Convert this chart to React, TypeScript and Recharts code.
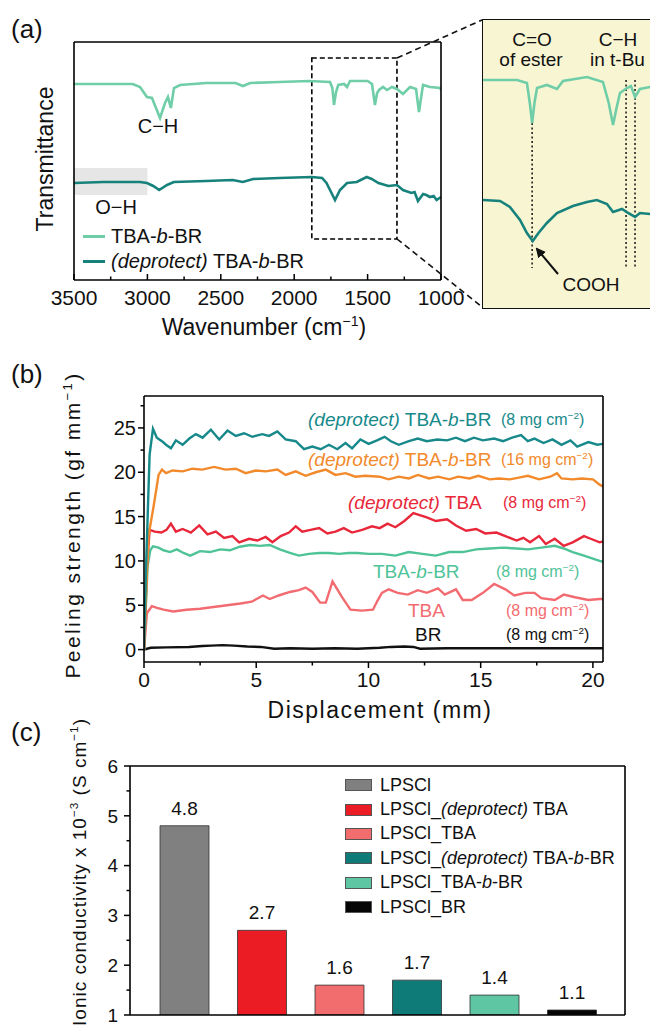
import React from "react";
import {
  LineChart,
  Line,
  XAxis,
  YAxis,
  ReferenceArea,
  ReferenceLine,
  BarChart,
  Bar,
  Cell,
  LabelList,
  Legend,
} from "recharts";

const FONT = "'Liberation Sans', Arial, Helvetica, sans-serif";

// ---------- (a) FTIR ----------
const ftirNames = ["TBA-b-BR", "(deprotect) TBA-b-BR"];
const ftirColors = ["#6fcea8", "#17827c"];
const ftirTicks = [3500, 3250, 3000, 2750, 2500, 2250, 2000, 1750, 1500, 1250, 1000];

const tbaWn = [3500, 3300, 3100, 3050, 3003, 2969, 2914, 2880, 2860, 2840, 2819, 2778, 2600, 2400, 2349, 2300, 2100, 1900, 1756, 1740, 1729, 1715, 1700, 1660, 1640, 1620, 1500, 1470, 1450, 1435, 1422, 1395, 1368, 1334, 1300, 1259, 1211, 1170, 1150, 1130, 1122, 1075, 1007, 1000];
const tbaT = [194, 194, 194, 191, 181, 180, 160, 175, 181, 170, 190, 193, 195, 195, 192, 195, 196, 197, 196, 190, 173, 186, 193, 194, 191, 197, 197, 194, 173, 185, 188, 191, 188, 191, 189, 184, 191, 189, 166, 186, 193, 191, 190, 188];

const deprotWn = [3500, 3300, 3050, 3003, 2960, 2920, 2866, 2820, 2600, 2419, 2350, 2280, 2100, 1879, 1810, 1780, 1756, 1722, 1688, 1640, 1574, 1506, 1472, 1426, 1358, 1300, 1259, 1202, 1180, 1157, 1122, 1100, 1075, 1050, 1030, 1000];
const deprotT = [95, 96, 96, 95, 92, 88, 93, 96, 97, 98, 96, 99, 100, 101, 100, 95, 88, 78, 88, 95, 96, 101, 99, 95, 92, 93, 88, 85, 86, 77, 84, 83, 81, 82, 78, 81];

// zoomed inset 1900-1210 cm-1
const insetTopWn = [1900, 1782, 1748, 1738, 1730, 1722, 1713, 1679, 1644, 1623, 1540, 1485, 1465, 1450, 1438, 1426, 1402, 1388, 1374, 1357, 1322, 1300, 1275, 1259, 1245, 1208];
const insetTopT = [228, 228, 225, 205, 185, 205, 220, 223, 219, 227, 231, 226, 205, 183, 200, 215, 220, 222, 211, 219, 221, 219, 216, 206, 214, 214];
const insetBotWn = [1900, 1841, 1807, 1772, 1748, 1728, 1708, 1679, 1644, 1589, 1540, 1506, 1471, 1450, 1419, 1398, 1374, 1357, 1322, 1290, 1260, 1230, 1208];
const insetBotT = [108, 107, 101, 88, 75, 67, 75, 85, 95, 102, 106, 108, 104, 96, 99, 95, 91, 95, 94, 92, 86, 84, 82];

// ---------- (b) peel test ----------
const peelNames = ["(deprotect) TBA-b-BR", "(deprotect) TBA-b-BR", "(deprotect) TBA", "TBA-b-BR", "TBA", "BR"];
const peelLoading = [8, 16, 8, 8, 8, 8];
const peelColors = ["#17898a", "#f28a2c", "#e8283a", "#4fc398", "#f26b70", "#111111"];
const peelXTicks = [0, 2.5, 5, 7.5, 10, 12.5, 15, 17.5, 20];
const peelYTicks = [0, 2.5, 5, 7.5, 10, 12.5, 15, 17.5, 20, 22.5, 25, 27.5];

const tealX = [0, 0.1, 0.25, 0.4, 0.57, 0.8, 0.98, 1.2, 1.42, 1.72, 2.02, 2.31, 2.61, 2.98, 3.35, 3.72, 4.09, 4.46, 4.83, 5.27, 5.57, 5.94, 6.31, 6.76, 7.13, 7.5, 7.87, 8.24, 8.61, 8.98, 9.27, 9.64, 10.01, 10.38, 10.72, 11.0, 11.35, 11.8, 12.2, 12.6, 13.07, 13.5, 13.9, 14.3, 14.7, 15.1, 15.6, 16.0, 16.4, 16.8, 17.1, 17.4, 17.8, 18.2, 18.6, 19.0, 19.3, 19.8, 20.2, 20.45];
const tealY = [0, 10, 22, 24.9, 23.9, 23.5, 23.1, 22.7, 23.6, 23.1, 23.8, 24.3, 23.9, 24.8, 23.7, 24.7, 24.1, 24.4, 24.0, 24.3, 24.1, 24.6, 23.7, 23.5, 22.6, 22.9, 22.6, 23.1, 22.6, 23.3, 22.7, 23.7, 23.2, 23.6, 24.0, 23.5, 23.1, 23.5, 23.8, 23.5, 23.7, 23.6, 23.9, 23.5, 23.9, 23.6, 23.8, 23.5, 23.9, 24.2, 23.5, 23.8, 23.3, 23.7, 23.1, 23.6, 22.9, 23.4, 23.1, 23.2];

const orangeX = [0, 0.12, 0.2, 0.43, 0.65, 0.8, 0.98, 1.27, 1.72, 2.16, 2.6, 3.12, 3.64, 4.09, 4.53, 4.98, 5.42, 5.94, 6.31, 6.76, 7.2, 7.65, 8.1, 8.53, 8.98, 9.42, 9.86, 10.5, 10.9, 11.35, 11.8, 12.2, 12.7, 13.1, 13.6, 14.0, 14.5, 14.9, 15.4, 15.8, 16.3, 16.7, 17.1, 17.6, 18.1, 18.4, 18.6, 19.1, 19.5, 20.0, 20.3, 20.45];
const orangeY = [0, 8, 12.8, 16.2, 19.7, 20.3, 19.9, 20.2, 20.1, 20.4, 20.3, 20.6, 20.3, 20.4, 19.9, 20.2, 20.1, 20.3, 19.7, 20.1, 19.6, 20.0, 20.3, 19.7, 19.9, 19.5, 19.6, 19.5, 19.2, 19.5, 19.3, 19.7, 19.3, 19.5, 19.2, 19.5, 19.3, 19.6, 19.2, 19.3, 19.2, 19.4, 19.6, 19.2, 19.5, 19.9, 19.3, 19.2, 19.3, 19.2, 18.6, 18.4];

const redX = [0, 0.12, 0.25, 0.48, 0.78, 1.0, 1.2, 1.42, 1.72, 2.09, 2.46, 2.83, 3.2, 3.57, 3.94, 4.24, 4.68, 5.05, 5.42, 5.72, 6.09, 6.46, 6.76, 7.05, 7.42, 7.8, 8.17, 8.53, 8.9, 9.27, 9.72, 10.16, 10.5, 10.85, 11.2, 11.6, 12.0, 12.6, 13.0, 13.5, 13.9, 14.35, 14.8, 15.2, 15.7, 16.1, 16.6, 16.9, 17.2, 17.6, 17.9, 18.3, 18.7, 19.1, 19.6, 19.9, 20.3, 20.45];
const redY = [0, 9, 13.5, 13.3, 13.2, 13.5, 14.2, 13.3, 13.6, 13.2, 14.0, 13.0, 13.3, 12.6, 12.8, 12.1, 12.5, 12.3, 12.7, 12.1, 12.8, 13.2, 13.9, 13.3, 13.5, 13.7, 13.1, 13.3, 13.7, 13.2, 13.5, 13.9, 13.7, 14.2, 13.8, 14.5, 15.4, 14.9, 14.5, 14.7, 14.0, 13.4, 13.6, 13.1, 13.2, 12.8, 12.3, 12.6, 12.1, 12.8, 11.9, 12.5, 11.7, 12.1, 12.8, 12.5, 12.1, 12.2];

const greenX = [0, 0.16, 0.28, 0.4, 0.65, 0.87, 1.16, 1.46, 1.76, 2.06, 2.5, 2.94, 3.4, 3.83, 4.27, 4.72, 5.16, 5.6, 6.05, 6.5, 6.9, 7.35, 7.8, 8.24, 8.7, 9.1, 9.5, 10.0, 10.6, 11.2, 11.8, 12.4, 13.0, 13.6, 14.2, 14.8, 15.4, 16.0, 16.6, 17.1, 17.7, 18.3, 18.7, 19.1, 19.6, 20.3, 20.45];
const greenY = [0, 9.4, 11.2, 11.65, 11.5, 11.2, 11.0, 11.3, 10.9, 10.6, 11.1, 11.0, 11.3, 11.2, 11.6, 11.8, 11.7, 11.8, 11.3, 10.9, 10.6, 10.8, 10.9, 10.9, 10.8, 10.9, 10.9, 10.8, 10.8, 10.6, 11.0, 10.8, 10.6, 11.0, 11.0, 11.3, 11.4, 11.5, 11.4, 11.3, 11.5, 11.7, 11.4, 11.0, 10.6, 10.0, 9.9];

const pinkX = [0, 0.13, 0.35, 0.58, 0.87, 1.3, 1.9, 2.5, 3.1, 3.7, 4.3, 4.8, 5.3, 5.6, 6.0, 6.5, 6.9, 7.2, 7.5, 7.85, 8.1, 8.4, 8.8, 9.2, 9.7, 10.2, 10.4, 10.6, 10.9, 11.3, 11.75, 12.2, 12.6, 13.1, 13.4, 13.9, 14.2, 14.6, 15.1, 15.6, 16.1, 16.5, 17.0, 17.4, 17.7, 18.3, 18.7, 19.2, 19.8, 20.3, 20.45];
const pinkY = [0, 4.1, 4.9, 4.7, 4.5, 4.3, 4.5, 4.6, 4.8, 5.0, 5.2, 5.4, 6.1, 5.7, 6.1, 6.5, 6.7, 7.0, 6.5, 5.3, 5.3, 7.7, 6.0, 4.5, 4.4, 4.5, 5.5, 6.4, 6.8, 6.4, 6.2, 6.7, 6.4, 6.9, 6.2, 6.8, 5.6, 5.6, 6.4, 7.4, 6.8, 6.1, 6.4, 6.4, 5.8, 5.6, 6.2, 5.9, 5.6, 5.7, 5.7];

const brX = [0, 0.3, 1.0, 2.0, 2.6, 3.0, 3.5, 4.0, 4.6, 5.2, 5.8, 6.5, 7.5, 8.5, 9.5, 10.5, 11.0, 11.6, 12.0, 12.3, 13.5, 15, 16.5, 18, 19.5, 20.45];
const brY = [0, 0.2, 0.25, 0.3, 0.4, 0.45, 0.5, 0.45, 0.35, 0.3, 0.1, 0.15, 0.1, 0.15, 0.1, 0.2, 0.3, 0.35, 0.3, 0.1, 0.15, 0.15, 0.15, 0.15, 0.15, 0.15];

// ---------- (c) ionic conductivity ----------
const condNames = ["LPSCl", "LPSCl_(deprotect) TBA", "LPSCl_TBA", "LPSCl_(deprotect) TBA-b-BR", "LPSCl_TBA-b-BR", "LPSCl_BR"];
const condValues = [4.8, 2.7, 1.6, 1.7, 1.4, 1.1];
const condColors = ["#808080", "#ec1c24", "#f26d6e", "#0f7b78", "#5ec6a2", "#050505"];
const condTicks = [1, 1.5, 2, 2.5, 3, 3.5, 4, 4.5, 5, 5.5, 6];

const zip = (xs: number[], ys: number[]) => xs.map((x, i) => ({ x, y: ys[i] }));

// "(deprotect)" and the block "b" are italic in the figure
function Rich({ text }: { text: string }) {
  const parts = text.split(/(\(deprotect\)|-b-)/);
  return (
    <>
      {parts.map((p, i) =>
        p === "(deprotect)" ? (
          <i key={i}>{p}</i>
        ) : p === "-b-" ? (
          <span key={i}>-<i>b</i>-</span>
        ) : (
          <span key={i}>{p}</span>
        )
      )}
    </>
  );
}

const Sup = ({ children }: { children: React.ReactNode }) => (
  <sup style={{ fontSize: "0.62em", verticalAlign: "0.6em", lineHeight: 0 }}>{children}</sup>
);

type TickArgs = { x?: number; y?: number; payload?: { value: number } };

function bottomTick(isMajor: (v: number) => boolean, inward: boolean, size: number, gap: number) {
  return function Tick({ x = 0, y = 0, payload }: TickArgs) {
    const v = payload?.value ?? 0;
    const major = isMajor(v);
    const len = major ? 6 : 3.5;
    return (
      <g>
        <line x1={x} x2={x} y1={y} y2={inward ? y - len : y + len} stroke="#000" strokeWidth={1.5} />
        {major && (
          <text x={x} y={y + gap} textAnchor="middle" fontSize={size} fontFamily={FONT} fill="#111">
            {v}
          </text>
        )}
      </g>
    );
  };
}

function leftTick(isMajor: (v: number) => boolean, size: number, gap: number) {
  return function Tick({ x = 0, y = 0, payload }: TickArgs) {
    const v = payload?.value ?? 0;
    const major = isMajor(v);
    const len = major ? 6 : 3.5;
    return (
      <g>
        <line x1={x - len} x2={x} y1={y} y2={y} stroke="#000" strokeWidth={1.5} />
        {major && (
          <text x={x - gap} y={y + size * 0.36} textAnchor="end" fontSize={size} fontFamily={FONT} fill="#111">
            {v}
          </text>
        )}
      </g>
    );
  };
}

const axisLine = { stroke: "#000", strokeWidth: 1.6 };

function Txt({
  x, y, size, color = "#111", center = false, children, style,
}: {
  x: number; y: number; size: number; color?: string; center?: boolean; children: React.ReactNode; style?: React.CSSProperties;
}) {
  return (
    <div
      style={{
        position: "absolute",
        left: x,
        top: y - size * 0.6,
        lineHeight: `${size * 1.2}px`,
        fontSize: size,
        color,
        whiteSpace: "nowrap",
        transform: center ? "translateX(-50%)" : undefined,
        ...style,
      }}
    >
      {children}
    </div>
  );
}

function VTxt({ x, y, size, children, spacing = 0 }: { x: number; y: number; size: number; children: React.ReactNode; spacing?: number }) {
  return (
    <div
      style={{
        position: "absolute",
        left: x,
        top: y,
        fontSize: size,
        lineHeight: 1,
        letterSpacing: spacing,
        whiteSpace: "nowrap",
        color: "#111",
        transform: "translate(-50%, -50%) rotate(-90deg)",
      }}
    >
      {children}
    </div>
  );
}

export default function App() {
  const tbaData = zip(tbaWn, tbaT);
  const deprotData = zip(deprotWn, deprotT);
  const insetTop = zip(insetTopWn, insetTopT);
  const insetBot = zip(insetBotWn, insetBotT);
  const peelSeries = [
    zip(tealX, tealY),
    zip(orangeX, orangeY),
    zip(redX, redY),
    zip(greenX, greenY),
    zip(pinkX, pinkY),
    zip(brX, brY),
  ];
  const condData = condNames.map((name, i) => ({ name, value: condValues[i] }));

  const nameLeft = [308, 308, 348, 373, 408, 415];
  const unitLeft = [501, 501, 503, 496, 506, 506];
  const rowY = [420, 460, 503, 572, 611, 635];

  return (
    <div
      style={{
        position: "absolute",
        left: 0,
        top: 0,
        width: 650,
        height: 1034,
        overflow: "hidden",
        background: "#fff",
        fontFamily: FONT,
      }}
    >
      {/* panel letters */}
      <Txt x={11} y={30} size={26}>(a)</Txt>
      <Txt x={11} y={375} size={26}>(b)</Txt>
      <Txt x={11} y={733} size={26}>(c)</Txt>

      {/* ---------- (a) main spectrum ---------- */}
      <div style={{ position: "absolute", left: 0, top: 0 }}>
        <LineChart width={470} height={340} margin={{ top: 41, right: 28, bottom: 30, left: 34 }}>
          <XAxis
            dataKey="x"
            type="number"
            domain={[1000, 3500]}
            reversed
            ticks={ftirTicks}
            interval={0}
            height={30}
            tickSize={0}
            tickMargin={0}
            tickLine={false}
            axisLine={axisLine}
            tick={bottomTick((v) => v % 500 === 0, true, 21, 25)}
            allowDataOverflow
          />
          <XAxis xAxisId="top" orientation="top" type="number" domain={[1000, 3500]} height={1} tick={false} tickLine={false} axisLine={axisLine} allowDataOverflow />
          <YAxis type="number" domain={[-2, 236]} width={40} tick={false} tickLine={false} axisLine={axisLine} allowDataOverflow />
          <YAxis yAxisId="right" orientation="right" type="number" domain={[-2, 236]} width={1} tick={false} tickLine={false} axisLine={axisLine} allowDataOverflow />
          <ReferenceArea x1={3500} x2={3000} y1={83} y2={110} fill="#e6e6e6" fillOpacity={1} stroke="none" />
          <ReferenceArea x1={1880} x2={1300} y1={39} y2={220} fill="none" stroke="#000" strokeWidth={1.6} strokeDasharray="5 3" />
          <Line data={tbaData} dataKey="y" name={ftirNames[0]} stroke={ftirColors[0]} strokeWidth={2.6} dot={false} isAnimationActive={false} />
          <Line data={deprotData} dataKey="y" name={ftirNames[1]} stroke={ftirColors[1]} strokeWidth={2.6} dot={false} isAnimationActive={false} />
          <Legend
            layout="vertical"
            align="center"
            verticalAlign="middle"
            wrapperStyle={{ left: 83, top: 224, width: 260, height: 52 }}
            content={() => (
              <div>
                {ftirNames.map((n, i) => (
                  <div key={n} style={{ display: "flex", alignItems: "center", height: 25, fontSize: 20, fontFamily: FONT, color: "#111" }}>
                    <span style={{ width: 22, height: 3.5, background: ftirColors[i], marginRight: 6 }} />
                    <span style={{ whiteSpace: "nowrap" }}>
                      <Rich text={n} />
                    </span>
                  </div>
                ))}
              </div>
            )}
          />
        </LineChart>
      </div>
      <Txt x={158} y={126} size={20} center>C−H</Txt>
      <Txt x={116} y={207} size={20} center>O−H</Txt>
      <VTxt x={45} y={159} size={23}>Transmittance</VTxt>
      <Txt x={264} y={327} size={23} center style={{ lineHeight: "24px", top: 315 }}>
        Wavenumber (cm<Sup>−1</Sup>)
      </Txt>

      {/* ---------- (a) inset ---------- */}
      <div
        style={{
          position: "absolute",
          left: 482,
          top: 19,
          width: 215,
          height: 290,
          boxSizing: "border-box",
          border: "1.6px solid #111",
          background: "#f8f5d3",
        }}
      >
        <LineChart width={200} height={288} margin={{ top: 0, right: 0, bottom: 0, left: 0 }}>
          <XAxis dataKey="x" type="number" domain={[1208, 1900]} reversed hide allowDataOverflow />
          <YAxis type="number" domain={[0, 288]} hide allowDataOverflow />
          <ReferenceLine segment={[{ x: 1730, y: 185 }, { x: 1730, y: 40 }]} stroke="#222" strokeWidth={1.6} strokeDasharray="2 2.5" />
          <ReferenceLine segment={[{ x: 1405, y: 228 }, { x: 1405, y: 40 }]} stroke="#222" strokeWidth={1.6} strokeDasharray="2 2.5" />
          <ReferenceLine segment={[{ x: 1374, y: 228 }, { x: 1374, y: 40 }]} stroke="#222" strokeWidth={1.6} strokeDasharray="2 2.5" />
          <Line data={insetTop} dataKey="y" stroke={ftirColors[0]} strokeWidth={2.6} dot={false} isAnimationActive={false} />
          <Line data={insetBot} dataKey="y" stroke={ftirColors[1]} strokeWidth={2.6} dot={false} isAnimationActive={false} />
        </LineChart>
      </div>
      <Txt x={532} y={40} size={19} center>C=O</Txt>
      <Txt x={531} y={60} size={19} center>of ester</Txt>
      <Txt x={618} y={40} size={19} center>C−H</Txt>
      <Txt x={590} y={60} size={19}>in t-Bu</Txt>
      <Txt x={591} y={285} size={19} center>COOH</Txt>

      <svg style={{ position: "absolute", left: 0, top: 0 }} width={650} height={340}>
        <defs>
          <marker id="arr" viewBox="0 0 10 10" refX="8" refY="5" markerWidth="5" markerHeight="5" orient="auto">
            <path d="M0 0 L10 5 L0 10 z" fill="#111" />
          </marker>
        </defs>
        <line x1={397} y1={58} x2={482} y2={20} stroke="#111" strokeWidth={1.6} strokeDasharray="6 4" />
        <line x1={397} y1={239} x2={482} y2={307} stroke="#111" strokeWidth={1.6} strokeDasharray="6 4" />
        <line x1={558} y1={274} x2={537} y2={249} stroke="#111" strokeWidth={2} markerEnd="url(#arr)" />
      </svg>

      {/* ---------- (b) peeling strength ---------- */}
      <div style={{ position: "absolute", left: 0, top: 340 }}>
        <LineChart width={650} height={390} margin={{ top: 55, right: 46, bottom: 38, left: 104 }}>
          <XAxis
            dataKey="x"
            type="number"
            domain={[0, 20.45]}
            ticks={peelXTicks}
            interval={0}
            height={30}
            tickSize={0}
            tickMargin={0}
            tickLine={false}
            axisLine={axisLine}
            tick={bottomTick((v) => v % 5 === 0, false, 21, 25)}
            allowDataOverflow
          />
          <XAxis xAxisId="top" orientation="top" type="number" domain={[0, 20.45]} height={1} tick={false} tickLine={false} axisLine={axisLine} allowDataOverflow />
          <YAxis
            type="number"
            domain={[-1.4, 28.6]}
            ticks={peelYTicks}
            interval={0}
            width={40}
            tickSize={0}
            tickMargin={0}
            tickLine={false}
            axisLine={axisLine}
            tick={leftTick((v) => v % 5 === 0, 20, 8)}
            allowDataOverflow
          />
          <YAxis yAxisId="right" orientation="right" type="number" domain={[-1.4, 28.6]} width={1} tick={false} tickLine={false} axisLine={axisLine} allowDataOverflow />
          {peelSeries
            .map((d, i) => (
              <Line
                key={i}
                data={d}
                dataKey="y"
                name={`${peelNames[i]} ${peelLoading[i]}`}
                stroke={peelColors[i]}
                strokeWidth={2.4}
                dot={false}
                isAnimationActive={false}
              />
            ))
            .reverse()}
        </LineChart>
      </div>
      {peelNames.map((n, i) => (
        <React.Fragment key={i}>
          <Txt x={nameLeft[i]} y={rowY[i]} size={19} color={peelColors[i]}>
            <Rich text={n} />
          </Txt>
          <Txt x={unitLeft[i]} y={rowY[i]} size={16} color={peelColors[i]}>
            ({peelLoading[i]} mg cm<Sup>−2</Sup>)
          </Txt>
        </React.Fragment>
      ))}
      <VTxt x={72} y={525} size={21} spacing={2.4}>
        Peeling strength (gf mm<Sup>−1</Sup>)
      </VTxt>
      <Txt x={380} y={711} size={23} center style={{ letterSpacing: 1.5 }}>
        Displacement (mm)
      </Txt>

      {/* ---------- (c) ionic conductivity ---------- */}
      <div style={{ position: "absolute", left: 0, top: 700 }}>
        <BarChart width={650} height={334} data={condData} margin={{ top: 65, right: 24, bottom: 0, left: 90 }}>
          <XAxis dataKey="name" height={19} tick={false} tickLine={false} axisLine={axisLine} padding={{ left: 16, right: 14 }} />
          <XAxis xAxisId="top" orientation="top" dataKey="name" height={1} tick={false} tickLine={false} axisLine={axisLine} />
          <YAxis
            type="number"
            domain={[1, 6]}
            ticks={condTicks}
            interval={0}
            width={40}
            tickSize={0}
            tickMargin={0}
            tickLine={false}
            axisLine={axisLine}
            tick={leftTick((v) => Number.isInteger(v), 19, 12)}
            allowDataOverflow
          />
          <YAxis yAxisId="right" orientation="right" type="number" domain={[1, 6]} width={1} tick={false} tickLine={false} axisLine={axisLine} />
          <Bar dataKey="value" barSize={49} stroke="#333" strokeWidth={0.8} isAnimationActive={false}>
            {condData.map((d, i) => (
              <Cell key={d.name} fill={condColors[i]} />
            ))}
            <LabelList
              dataKey="value"
              position="top"
              offset={11}
              formatter={(v: unknown) => Number(v).toFixed(1)}
              fontSize={19}
              fontFamily={FONT}
              fill="#111"
            />
          </Bar>
          <Legend
            layout="vertical"
            align="center"
            verticalAlign="middle"
            wrapperStyle={{ left: 345, top: 73, width: 280, height: 150 }}
            content={() => (
              <div>
                {condNames.map((n, i) => (
                  <div key={n} style={{ display: "flex", alignItems: "center", height: 24.4, fontSize: 18, fontFamily: FONT, color: "#111" }}>
                    <span
                      style={{
                        width: 27,
                        height: 12,
                        boxSizing: "border-box",
                        background: condColors[i],
                        border: "1px solid #555",
                        marginRight: 8,
                      }}
                    />
                    <span style={{ whiteSpace: "nowrap" }}>
                      <Rich text={n} />
                    </span>
                  </div>
                ))}
              </div>
            )}
          />
        </BarChart>
      </div>
      <VTxt x={79} y={872} size={19} spacing={1.0}>
        Ionic conductivity x 10<Sup>−3</Sup> (S cm<Sup>−1</Sup>)
      </VTxt>
    </div>
  );
}
